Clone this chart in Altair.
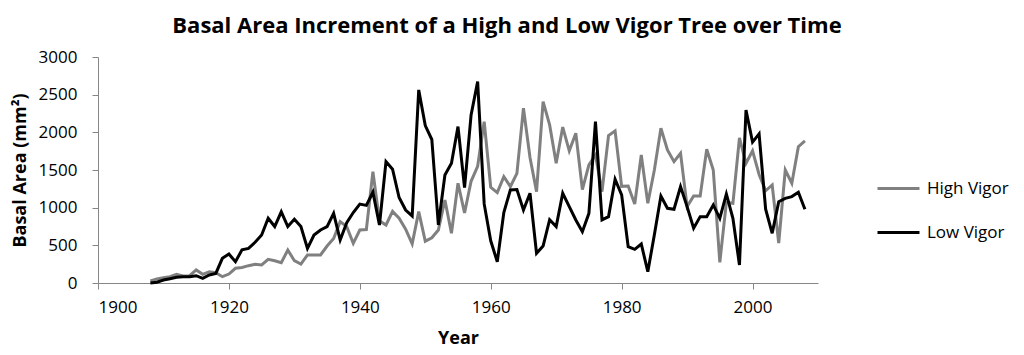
import altair as alt
import pandas as pd

years = list(range(1908, 2009))

high_vigor = [
    27, 53, 71, 84, 115, 93, 97, 173, 115, 150,            # 1908-1917
    137, 84, 119, 195, 205, 230, 250, 240, 314, 296,       # 1918-1927
    270, 438, 296, 252, 372, 372, 372, 491, 590, 814,      # 1928-1937
    748, 527, 704, 710, 1478, 825, 770, 950, 859, 715,     # 1938-1947
    520, 947, 555, 600, 704, 1102, 660, 1324, 930, 1350,   # 1948-1957
    1550, 2142, 1270, 1200, 1412, 1279, 1456, 2320, 1667, 1213,  # 1958-1967
    2408, 2098, 1589, 2070, 1755, 1988, 1240, 1567, 1700, 1213,  # 1968-1977
    1958, 2020, 1283, 1288, 1049, 1700, 1058, 1500, 2054, 1766,  # 1978-1987
    1611, 1722, 1014, 1155, 1155, 1775, 1500, 275, 1070, 1058,   # 1988-1997
    1925, 1589, 1755, 1440, 1224, 1301, 530, 1500, 1324, 1810,   # 1998-2007
    1888,                                                        # 2008
]

low_vigor = [
    0, 10, 40, 57, 75, 84, 84, 97, 62, 106,                # 1908-1917
    128, 328, 385, 283, 440, 460, 540, 637, 860, 750,      # 1918-1927
    945, 750, 846, 750, 460, 637, 704, 748, 925, 571,      # 1928-1937
    800, 935, 1047, 1030, 1205, 770, 1611, 1510, 1135, 969,  # 1938-1947
    890, 2563, 2090, 1905, 770, 1434, 1589, 2076, 1265, 2231,  # 1948-1957
    2673, 1050, 560, 283, 935, 1235, 1240, 969, 1191, 394,   # 1958-1967
    490, 840, 748, 1191, 1014, 837, 681, 925, 2142, 837,     # 1968-1977
    881, 1377, 1169, 482, 447, 518, 150, 640, 1155, 992,     # 1978-1987
    979, 1279, 1014, 726, 881, 881, 1036, 859, 1182, 859,    # 1988-1997
    239, 2297, 1870, 1980, 980, 660, 1080, 1124, 1147, 1205, # 1998-2007
    980,                                                     # 2008
]

series_names = ["High Vigor", "Low Vigor"]
series_colors = ["#808080", "#000000"]
x_ticks = [1900, 1920, 1940, 1960, 1980, 2000]
y_ticks = [0, 500, 1000, 1500, 2000, 2500, 3000]

df = pd.concat([
    pd.DataFrame({"Year": years, "Value": high_vigor, "Series": series_names[0]}),
    pd.DataFrame({"Year": years, "Value": low_vigor, "Series": series_names[1]}),
])

FONT = "Open Sans"

color = alt.Color(
    "Series:N",
    scale=alt.Scale(domain=series_names, range=series_colors),
    legend=alt.Legend(
        title=None, orient="none", legendX=778, legendY=109,
        symbolType="stroke", symbolSize=1764, symbolStrokeWidth=3,
        labelFontSize=17, labelFont=FONT, labelColor="#000000",
        rowPadding=13, labelOffset=6,
    ),
)

x = alt.X(
    "Year:Q",
    scale=alt.Scale(domain=[1900, 2010], nice=False, zero=False),
    axis=alt.Axis(
        values=x_ticks, format="d", title="Year", grid=False,
        domainColor="#868686", tickColor="#868686", tickSize=6,
        labelFontSize=17, labelFont=FONT, labelColor="#000000", labelPadding=10,
        titleFontSize=18, titleFont=FONT, titleFontWeight="bold",
        titleColor="#000000", titlePadding=14,
    ),
)
y = alt.Y(
    "Value:Q",
    scale=alt.Scale(domain=[0, 3000], nice=False),
    axis=alt.Axis(
        values=y_ticks, format="d", title="Basal Area (mm²)", grid=False,
        domainColor="#868686", tickColor="#868686", tickSize=6,
        labelFontSize=17, labelFont=FONT, labelColor="#000000", labelPadding=15,
        titleFontSize=18, titleFont=FONT, titleFontWeight="bold",
        titleColor="#000000", titleX=-78, titleY=113, titleBaseline="middle",
    ),
)

base = alt.Chart(df)
gray_line = base.transform_filter(alt.datum.Series == series_names[0]).mark_line(
    strokeWidth=3, strokeJoin="miter"
).encode(x=x, y=y, color=color)
black_line = base.transform_filter(alt.datum.Series == series_names[1]).mark_line(
    strokeWidth=3, strokeJoin="miter"
).encode(x=x, y=y, color=color)

chart = alt.layer(gray_line, black_line).properties(
    width=720,
    height=226,
    title=alt.TitleParams(
        "Basal Area Increment of a High and Low Vigor Tree over Time",
        fontSize=22, font=FONT, fontWeight="bold", color="#000000",
        anchor="middle", dx=49, offset=10,
    ),
    autosize=alt.AutoSizeParams(type="none"),
    padding={"left": 90, "top": 49, "right": 198, "bottom": 64},
).configure_view(stroke=None)

chart.save("out.html", embed_options={"renderer": "svg", "actions": False})
